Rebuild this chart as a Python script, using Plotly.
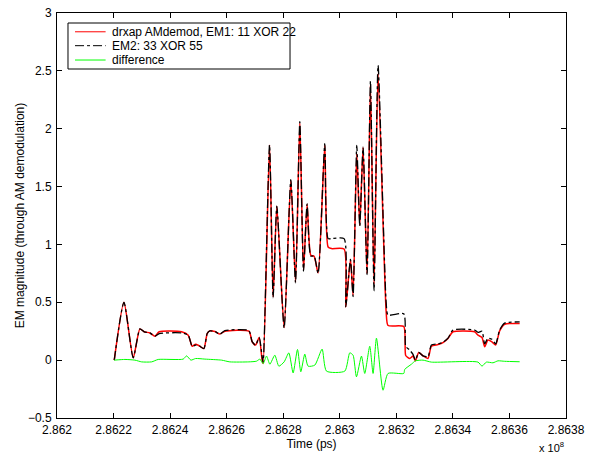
import plotly.graph_objects as go

# Time axis values in units of 1e8 ps
t_main = [2.8622025, 2.8622368, 2.8622696, 2.8622933, 2.8623085, 2.8623286, 2.8623463, 2.8623615,
          2.8624406, 2.8624640, 2.8624781, 2.8624901, 2.8625028, 2.8625194, 2.8625311, 2.8625406,
          2.8625583, 2.8625760, 2.8625936, 2.8626785, 2.8626901, 2.8627021, 2.8627149, 2.8627254,
          2.8627290, 2.8627516, 2.8627643, 2.8627774, 2.8628032, 2.8628269, 2.8628435, 2.8628587,
          2.8628717, 2.8628845, 2.8628975, 2.8629092, 2.8629233, 2.8629470, 2.8629587, 2.8629707,
          2.8630152, 2.8630212, 2.8630378, 2.8630470, 2.8630601, 2.8630707, 2.8630824, 2.8630965,
          2.8631085, 2.8631212, 2.8631354, 2.8631640, 2.8631707, 2.8632262, 2.8632332, 2.8632474,
          2.8632590, 2.8632675, 2.8632792, 2.8632944, 2.8633120, 2.8633240, 2.8633474, 2.8633650,
          2.8633827, 2.8634004, 2.8634770, 2.8634887, 2.8635029, 2.8635124, 2.8635241, 2.8635382,
          2.8635513, 2.8635654, 2.8635831, 2.8636361]

em1 = [0.00, 0.50, 0.02, 0.27, 0.245, 0.235, 0.207, 0.245,
       0.245, 0.216, 0.12, 0.138, 0.124, 0.10, 0.23, 0.253,
       0.247, 0.225, 0.25, 0.25, 0.158, 0.13, 0.196, 0.00,
       -0.03, 1.857, 0.547, 1.33, 0.282, 1.554, 0.676, 2.05,
       0.777, 1.347, 0.907, 0.898, 0.754, 1.857, 0.978, 0.964,
       0.96, 0.46, 0.87, 0.56, 1.785, 1.166, 1.837, 0.748,
       2.375, 0.656, 2.476, 0.42, 0.30, 0.29, 0.04, 0.014,
       0.035, -0.006, 0.066, 0.037, 0.014, 0.12, 0.135, 0.152,
       0.187, 0.245, 0.245, 0.216, 0.196, 0.115, 0.173, 0.158,
       0.13, 0.253, 0.31, 0.317]

em2 = [0.00, 0.50, 0.02, 0.27, 0.245, 0.235, 0.207, 0.23,
       0.235, 0.216, 0.12, 0.13, 0.124, 0.10, 0.23, 0.253,
       0.247, 0.225, 0.255, 0.255, 0.16, 0.13, 0.196, 0.03,
       -0.02, 1.86, 0.54, 1.33, 0.28, 1.56, 0.67, 2.06,
       0.77, 1.35, 0.90, 0.90, 0.75, 1.87, 1.05, 1.05,
       1.05, 0.46, 0.87, 0.55, 1.855, 1.16, 1.84, 0.74,
       2.41, 0.60, 2.547, 0.50, 0.39, 0.40, 0.12, 0.086,
       0.05, 0.00, 0.066, 0.037, 0.03, 0.13, 0.14, 0.155,
       0.19, 0.26, 0.26, 0.24, 0.25, 0.14, 0.19, 0.18,
       0.14, 0.26, 0.32, 0.33]

t_diff = [2.8622025, 2.8622403, 2.8622756, 2.8622993, 2.8623346, 2.8623580, 2.8624463, 2.8624583,
          2.8624735, 2.8624901, 2.8625230, 2.8625820, 2.8626113, 2.8626785, 2.8627057, 2.8627173,
          2.8627290, 2.8627410, 2.8627527, 2.8627703, 2.8627845, 2.8628032, 2.8628198, 2.8628350,
          2.8628505, 2.8628622, 2.8628763, 2.8628880, 2.8629117, 2.8629375, 2.8629530, 2.8630177,
          2.8630353, 2.8630470, 2.8630590, 2.8630767, 2.8630883, 2.8631060, 2.8631177, 2.8631297,
          2.8631530, 2.8631707, 2.8632262, 2.8632297, 2.8632534, 2.8632675, 2.8632944, 2.8633240,
          2.8634887, 2.8635029, 2.8635184, 2.8635417, 2.8635594, 2.8635831, 2.8636361]

diff = [0.0, 0.006, 0.0, -0.015, -0.015, 0.006, 0.009, 0.037,
        0.0, 0.014, 0.009, 0.0, -0.015, -0.015, -0.009, 0.009,
        -0.03, 0.035, -0.035, 0.043, -0.052, -0.015, 0.063, -0.11,
        0.092, -0.10, 0.052, -0.052, -0.043, 0.095, -0.095, -0.095,
        0.063, 0.043, -0.144, 0.035, -0.115, 0.12, -0.115, 0.19,
        -0.26, -0.115, -0.115, -0.08, -0.035, -0.006, 0.0, -0.017,
        -0.017, -0.052, -0.017, -0.023, -0.006, -0.01, -0.014]

x_ticks = [2.862, 2.8622, 2.8624, 2.8626, 2.8628, 2.863, 2.8632, 2.8634, 2.8636, 2.8638]
x_ticklabels = ["2.862", "2.8622", "2.8624", "2.8626", "2.8628", "2.863", "2.8632", "2.8634", "2.8636", "2.8638"]
y_ticks = [-0.5, 0, 0.5, 1, 1.5, 2, 2.5, 3]
y_ticklabels = ["\u22120.5", "0", "0.5", "1", "1.5", "2", "2.5", "3"]

names = ["drxap AMdemod, EM1: 11 XOR 22", "EM2: 33 XOR 55", "difference"]
colors = ["#ff0000", "#000000", "#00ff00"]
dashes = ["solid", "dashdot", "solid"]

FONT = "Liberation Sans, Arial, Helvetica, sans-serif"

fig = go.Figure()
fig.add_trace(go.Scatter(x=t_main, y=em1, mode="lines", name=names[0], showlegend=False,
                         line=dict(color=colors[0], width=1.5, shape="spline", smoothing=0.6)))
fig.add_trace(go.Scatter(x=t_main, y=em2, mode="lines", name=names[1], showlegend=False,
                         line=dict(color=colors[1], width=1.3, dash=dashes[1], shape="spline", smoothing=0.6)))
fig.add_trace(go.Scatter(x=t_diff, y=diff, mode="lines", name=names[2], showlegend=False,
                         line=dict(color=colors[2], width=1, shape="spline", smoothing=0.6)))

# Compact MATLAB-style legend box (paper coordinates)
leg_x0, leg_x1, leg_y0, leg_y1 = 0.0216, 0.4578, 0.8617, 0.9753
row_y = [0.9536, 0.9193, 0.8839]
shapes = [dict(type="rect", xref="paper", yref="paper", x0=leg_x0, x1=leg_x1, y0=leg_y0, y1=leg_y1,
               line=dict(color="black", width=1), fillcolor="white", layer="above")]
annotations = []
for name, col, dsh, ry in zip(names, colors, dashes, row_y):
    shapes.append(dict(type="line", xref="paper", yref="paper", x0=0.0354, x1=0.0955, y0=ry, y1=ry,
                       line=dict(color=col, width=1, dash=dsh), layer="above"))
    annotations.append(dict(text=name, xref="paper", yref="paper", x=0.1035, y=ry, xanchor="left",
                            yanchor="middle", showarrow=False, font=dict(family=FONT, size=12, color="black")))

annotations.append(dict(text="x 10<sup>8</sup>", xref="paper", yref="paper", x=1.0, y=-0.093,
                        xanchor="right", yanchor="bottom", showarrow=False,
                        font=dict(family=FONT, size=11, color="black")))

axis_common = dict(showgrid=False, zeroline=False, showline=True, linecolor="black", linewidth=1,
                   mirror="ticks", ticks="inside", ticklen=5, tickcolor="black", tickwidth=1,
                   automargin=False, tickfont=dict(family=FONT, size=12, color="black"))

fig.update_layout(
    width=594, height=455,
    margin=dict(l=57, r=28, t=13, b=37, autoexpand=False),
    paper_bgcolor="white", plot_bgcolor="white",
    font=dict(family=FONT, size=12, color="black"),
    showlegend=False,
    xaxis=dict(range=[2.862, 2.8638], tickvals=x_ticks, ticktext=x_ticklabels, ticklabelstandoff=1,
               title=dict(text="Time (ps)", font=dict(size=12), standoff=0), **axis_common),
    yaxis=dict(range=[-0.5, 3], tickvals=y_ticks, ticktext=y_ticklabels, ticklabelstandoff=2,
               title=dict(text="EM magnitude (through AM demodulation)", font=dict(size=12), standoff=0),
               **axis_common),
    shapes=shapes,
    annotations=annotations,
)

fig.write_html("out.html")
